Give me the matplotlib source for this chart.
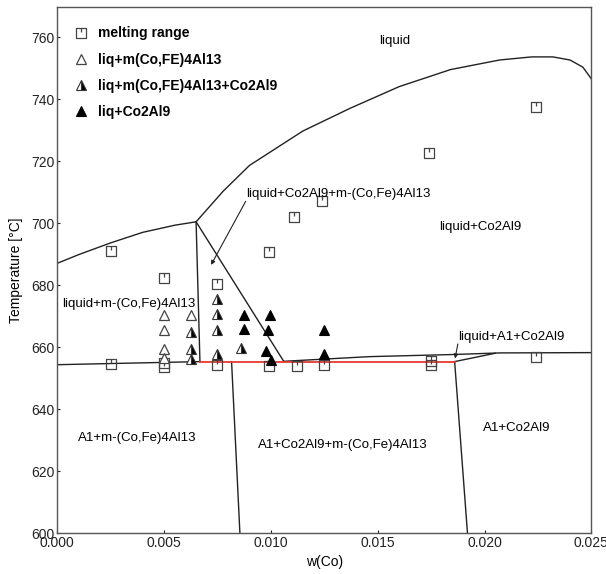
import matplotlib
matplotlib.use("Agg")
import matplotlib.pyplot as plt
from matplotlib.path import Path
import numpy as np

plt.rcParams['font.family'] = ['Liberation Sans', 'DejaVu Sans']

# ---- data ----
melt_w = [0.0025, 0.0025, 0.005, 0.005, 0.005, 0.0075, 0.0075, 0.0099, 0.0099,
          0.0111, 0.0112, 0.0124, 0.0125, 0.0174, 0.0175, 0.0175, 0.0224, 0.0224]
melt_T = [691.0, 654.5, 682.2, 655.0, 653.5, 680.2, 654.2, 690.6, 654.0,
          702.0, 654.0, 707.2, 654.3, 722.6, 655.5, 654.2, 737.6, 656.8]

open_w = [0.005, 0.005, 0.005, 0.005, 0.00625]
open_T = [670.2, 665.4, 659.3, 656.4, 670.2]

half_w = [0.00625, 0.00625, 0.00625, 0.0075, 0.0075, 0.0075, 0.0075, 0.0086]
half_T = [665.0, 659.5, 656.2, 675.4, 670.7, 665.4, 657.7, 659.8]

full_w = [0.00875, 0.00875, 0.00995, 0.00985, 0.00977, 0.0100, 0.01248, 0.01248]
full_T = [670.2, 665.7, 670.2, 665.5, 658.7, 655.7, 665.5, 657.6]

# phase boundary lines
liq_left_w = [0.0, 0.001, 0.0025, 0.004, 0.0055, 0.0065]
liq_left_T = [687.0, 689.8, 693.6, 697.0, 699.3, 700.4]

liq_right_w = [0.0065, 0.00777, 0.009, 0.0115, 0.0137, 0.016, 0.0184, 0.0207,
               0.0222, 0.0232, 0.0240, 0.0246, 0.0250]
liq_right_T = [700.4, 710.3, 718.6, 729.7, 737.0, 744.0, 749.5, 752.6,
               753.6, 753.6, 752.6, 750.3, 746.5]

vert1_w = [0.0065, 0.00668]
vert1_T = [700.4, 655.3]
diag_w = [0.0065, 0.0106]
diag_T = [700.4, 655.4]
sol_left_w = [0.0, 0.00668]
sol_left_T = [654.3, 655.3]
red_w = [0.00668, 0.0186]
red_T = [655.3, 655.3]
upper_w = [0.0106, 0.0146, 0.0186, 0.0207, 0.025]
upper_T = [655.4, 656.9, 657.6, 658.1, 658.2]
branch_w = [0.0186, 0.0205]
branch_T = [655.3, 658.0]
vert2_w = [0.00816, 0.00855]
vert2_T = [655.3, 600.0]
vert3_w = [0.0186, 0.0192]
vert3_T = [655.3, 600.0]

xticks = [0.000, 0.005, 0.010, 0.015, 0.020, 0.025]
yticks = [600, 620, 640, 660, 680, 700, 720, 740, 760]

# ---- figure ----
fig = plt.figure(figsize=(6.06, 5.74), dpi=100)
ax = fig.add_axes([0.0944, 0.0714, 0.8815, 0.9164])

lc = '#222222'
lw = 1.0
for xs, ys in [(liq_left_w, liq_left_T), (liq_right_w, liq_right_T),
               (vert1_w, vert1_T), (diag_w, diag_T), (sol_left_w, sol_left_T),
               (upper_w, upper_T), (branch_w, branch_T), (vert2_w, vert2_T),
               (vert3_w, vert3_T)]:
    ax.plot(xs, ys, color=lc, lw=lw, zorder=2)
ax.plot(red_w, red_T, color='#e8392f', lw=1.3, zorder=2)

# custom marker: square with a small tick from top
verts = [(-1, -1), (1, -1), (1, 1), (-1, 1), (-1, -1), (0, 1), (0, 0.15)]
codes = [Path.MOVETO, Path.LINETO, Path.LINETO, Path.LINETO, Path.CLOSEPOLY,
         Path.MOVETO, Path.LINETO]
sq_marker = Path(verts, codes)

mc = '#444444'
ax.plot(melt_w, melt_T, linestyle='none', marker=sq_marker, markersize=6.5,
        markerfacecolor='none', markeredgecolor=mc, markeredgewidth=0.9,
        label='melting range', zorder=3)
ax.plot(open_w, open_T, linestyle='none', marker='^', markersize=7,
        markerfacecolor='white', markeredgecolor=mc, markeredgewidth=0.9,
        label='liq+m(Co,FE)4Al13', zorder=3)
ax.plot(half_w, half_T, linestyle='none', marker='^', markersize=7,
        fillstyle='right', markerfacecolor='black', markerfacecoloralt='white',
        markeredgecolor='#333333', markeredgewidth=0.8,
        label='liq+m(Co,FE)4Al13+Co2Al9', zorder=3)
ax.plot(full_w, full_T, linestyle='none', marker='^', markersize=7,
        markerfacecolor='black', markeredgecolor='black', markeredgewidth=0.8,
        label='liq+Co2Al9', zorder=3)

fs = 9.5
ax.text(0.0158, 758.7, 'liquid', fontsize=fs, ha='center', va='center')
ax.text(0.00022, 674.0, 'liquid+m-(Co,Fe)4Al13', fontsize=fs, ha='left', va='center')
ax.text(0.0198, 698.8, 'liquid+Co2Al9', fontsize=fs, ha='center', va='center')
ax.text(0.00098, 630.6, 'A1+m-(Co,Fe)4Al13', fontsize=fs, ha='left', va='center')
ax.text(0.0094, 628.4, 'A1+Co2Al9+m-(Co,Fe)4Al13', fontsize=fs, ha='left', va='center')
ax.text(0.0215, 633.8, 'A1+Co2Al9', fontsize=fs, ha='center', va='center')
ax.text(0.00882, 709.5, 'liquid+Co2Al9+m-(Co,Fe)4Al13', fontsize=fs, ha='left', va='center')
ax.text(0.01875, 663.2, 'liquid+A1+Co2Al9', fontsize=fs, ha='left', va='center')

ax.annotate('', xy=(0.0072, 686.5), xytext=(0.00882, 707.0),
            arrowprops=dict(arrowstyle='-|>', lw=0.8, color='#222222',
                            mutation_scale=6, shrinkA=0, shrinkB=0))
ax.annotate('', xy=(0.01862, 656.3), xytext=(0.01875, 661.0),
            arrowprops=dict(arrowstyle='-|>', lw=0.8, color='#222222',
                            mutation_scale=6, shrinkA=0, shrinkB=0))

ax.set_xlim(0.0, 0.025)
ax.set_ylim(600, 769.7)
ax.set_xticks(xticks)
ax.set_xticklabels(['%.3f' % v for v in xticks])
ax.set_yticks(yticks)
ax.tick_params(direction='in', length=2, labelsize=10, colors='#222222', pad=2)
for s in ax.spines.values():
    s.set_color('#555555')
    s.set_linewidth(1.0)
ax.set_xlabel('w(Co)', fontsize=10, labelpad=4)
ax.set_ylabel('Temperature [°C]', fontsize=10, labelpad=6)

leg = ax.legend(loc='upper left', bbox_to_anchor=(-0.004, 1.0), frameon=False,
                prop={'weight': 'bold', 'size': 10}, handlelength=1.0,
                handletextpad=0.7, labelspacing=0.87, borderaxespad=0.0,
                borderpad=1.4)

fig.savefig('out.png', dpi=100)
